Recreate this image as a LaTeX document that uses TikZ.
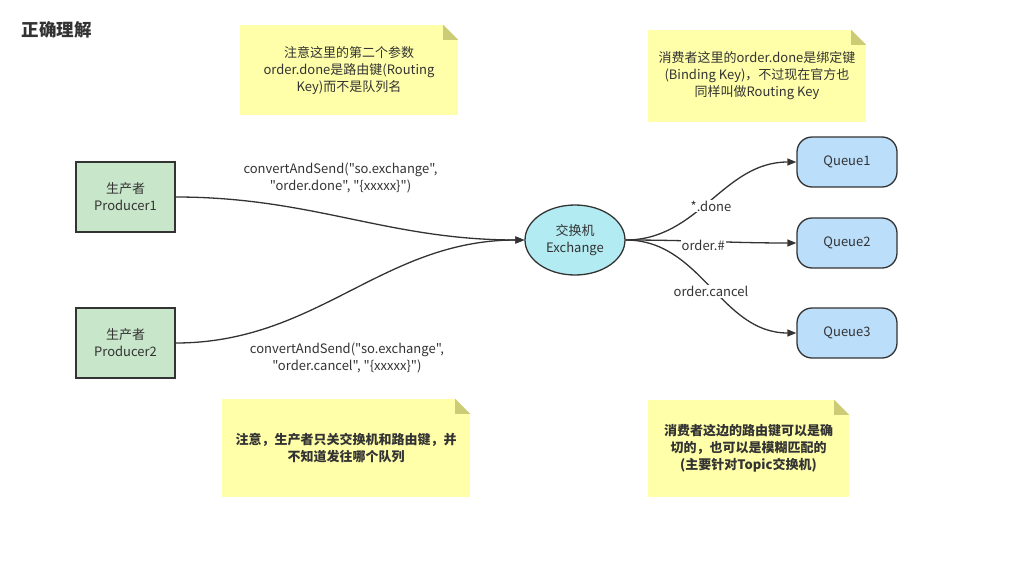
\documentclass[tikz,border=0pt]{standalone}
\usepackage{fontspec}
\setmainfont{Noto Sans CJK SC}[Ligatures=TeXOff]
\usetikzlibrary{arrows.meta,positioning,shapes.geometric}
\definecolor{txt}{RGB}{51,51,51}
\definecolor{prodc}{RGB}{200,230,201}
\definecolor{exchc}{RGB}{178,235,242}
\definecolor{queuec}{RGB}{187,222,251}
\definecolor{notec}{RGB}{255,255,170}
\definecolor{foldc}{RGB}{204,204,119}

\begin{document}
\begin{tikzpicture}[x=1pt,y=-1pt,font=\fontsize{13}{17}\selectfont,text=txt,
prod/.style={draw=txt,line width=1.3pt,fill=prodc,minimum width=99pt,minimum height=70pt,align=center},
exch/.style={ellipse,draw=txt,line width=1.3pt,fill=exchc,minimum width=100pt,minimum height=70pt,align=center,inner sep=0pt},
queue/.style={draw=txt,line width=1.3pt,fill=queuec,rounded corners=15pt,minimum width=100pt,minimum height=50pt},
note/.style={fill=notec,align=center},
arr/.style={-{Triangle[length=9pt,width=7pt]},draw=txt,line width=1.3pt},
lbl/.style={fill=white,inner sep=1pt,font=\fontsize{13}{15}\selectfont}]
\useasboundingbox (0,0) rectangle (1035,565);
\node[font=\fontsize{17.5}{19}\bfseries\selectfont,anchor=west] (title) at (18,30) {正确理解};
% notes
\node[note,minimum width=218pt,minimum height=90pt] (n1) at (349,70) {注意这里的第二个参数\\order.done是路由键(Routing\\Key)而不是队列名};
\node[note,minimum width=218pt,minimum height=92pt] (n2) at (757,76) {消费者这里的order.done是绑定键\\(Binding Key)，不过现在官方也\\同样叫做Routing Key};
\node[note,minimum width=248pt,minimum height=98pt,font=\fontsize{13}{17}\bfseries\selectfont] (n3) at (346,448) {注意，生产者只关交换机和路由键，并\\不知道发往哪个队列};
\node[note,minimum width=201pt,minimum height=97pt,font=\fontsize{13}{17}\bfseries\selectfont] (n4) at (748.5,448.5) {消费者这边的路由键可以是确\\切的，也可以是模糊匹配的\\(主要针对Topic交换机)};
\foreach \n in {n1,n2,n3,n4} {
  \fill[white] (\n.north east) -- ++(-15,0) -- ++(15,15) -- cycle;
  \fill[foldc] (\n.north east) ++(-15,0) -- ++(0,15) -- ++(15,0) -- cycle;
}
% nodes
\node[prod] (p1) at (125.5,197) {生产者\\Producer1};
\node[prod] (p2) at (125.5,343) {生产者\\Producer2};
\node[exch] (ex) at (575,240) {交换机\\Exchange};
\node[queue] (q1) at (847,162) {Queue1};
\node[queue] (q2) at (847,243) {Queue2};
\node[queue] (q3) at (847,333) {Queue3};
% connectors
\draw[arr] (p1.east) to[out=0,in=180] node[pos=.47,above=20pt,align=center] (l1) {convertAndSend("so.exchange",\\"order.done", "\{xxxxx\}")} (ex.west);
\draw[arr] (p2.east) to[out=0,in=180] node[pos=.49,below=46pt,align=center] (l2) {convertAndSend("so.exchange",\\"order.cancel", "\{xxxxx\}")} (ex.west);
\draw[arr] (ex.east) to[out=0,in=180] node[lbl,pos=.5,yshift=-5pt] (k1) {*.done} (q1.west);
\draw[arr] (ex.east) to[out=0,in=180] node[lbl,pos=.45,yshift=-4pt] (k2) {order.\#} (q2.west);
\draw[arr] (ex.east) to[out=0,in=180] node[lbl,pos=.5,yshift=-5pt] (k3) {order.cancel} (q3.west);
\end{tikzpicture}
\end{document}
